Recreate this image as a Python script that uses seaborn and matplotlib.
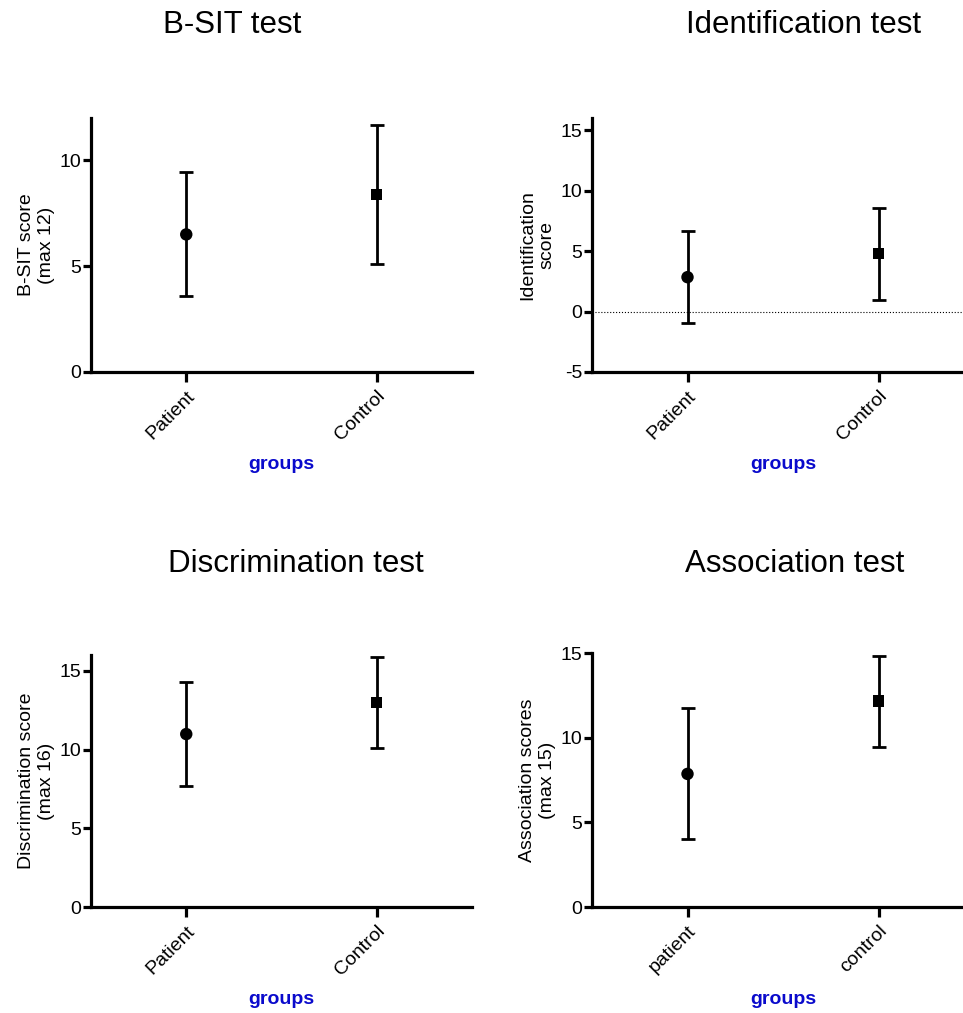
import numpy as np
import pandas as pd
import matplotlib
matplotlib.use("Agg")
import matplotlib.pyplot as plt
import seaborn as sns

# данные (среднее и ошибка)
groups_upper = ["Patient", "Control"]
groups_lower = ["patient", "control"]

bsit_mean = [6.5, 8.4]
bsit_err = [2.93, 3.28]

ident_mean = [2.84, 4.78]
ident_err = [3.78, 3.79]

discr_mean = [10.98, 12.99]
discr_err = [3.3, 2.9]

assoc_mean = [7.86, 12.16]
assoc_err = [3.87, 2.69]

titles = ["B-SIT test", "Identification test", "Discrimination test", "Association test"]
ylabels = ["B-SIT score\n(max 12)", "Identification\nscore",
           "Discrimination score\n(max 16)", "Association scores\n(max 15)"]

sns.set_style("ticks")
plt.rcParams["font.family"] = ["Liberation Sans", "DejaVu Sans"]
plt.rcParams["axes.unicode_minus"] = False
plt.rcParams["text.color"] = "black"
plt.rcParams["axes.labelcolor"] = "black"
plt.rcParams["xtick.color"] = "black"
plt.rcParams["ytick.color"] = "black"
plt.rcParams["axes.edgecolor"] = "black"

fig = plt.figure(figsize=(9.63, 10.13), dpi=100)
W, H = 963, 1013


def make_ax(left, top, right, bottom):
    return fig.add_axes([left / W, 1 - bottom / H, (right - left) / W, (bottom - top) / H])


panels = [
    dict(ax=make_ax(91, 118, 472, 372), cats=groups_upper, mean=bsit_mean, err=bsit_err,
         ylim=(0, 12), yticks=[0, 5, 10]),
    dict(ax=make_ax(592, 118, 974, 372), cats=groups_upper, mean=ident_mean, err=ident_err,
         ylim=(-5, 16), yticks=[-5, 0, 5, 10, 15]),
    dict(ax=make_ax(91, 655, 472, 907), cats=groups_upper, mean=discr_mean, err=discr_err,
         ylim=(0, 16), yticks=[0, 5, 10, 15]),
    dict(ax=make_ax(592, 653, 974, 907), cats=groups_lower, mean=assoc_mean, err=assoc_err,
         ylim=(0, 15), yticks=[0, 5, 10, 15]),
]

for i, p in enumerate(panels):
    ax = p["ax"]
    df = pd.DataFrame({"group": p["cats"], "score": p["mean"], "err": p["err"]})
    if i == 1:
        ax.axhline(0, ls=":", lw=0.8, color="k", zorder=1)
    ax.errorbar(x=df["group"], y=df["score"], yerr=df["err"], fmt="none",
                ecolor="black", elinewidth=2.0, capsize=4.7, capthick=2.0, zorder=2)
    sns.scatterplot(data=df, x="group", y="score", style="group",
                    markers=["o", "s"], s=[80, 65], color="black",
                    edgecolor="black", linewidth=0, legend=False, ax=ax, zorder=3)
    ax.set_xlim(-0.5, 1.5)
    ax.set_ylim(*p["ylim"])
    ax.set_yticks(p["yticks"])
    ax.set_xticks([0, 1])
    ax.set_xticklabels(p["cats"], rotation=45, ha="right", rotation_mode="anchor")
    sns.despine(ax=ax)
    for s in ["left", "bottom"]:
        ax.spines[s].set_linewidth(2.3)
    ax.tick_params(axis="y", length=6, width=2.3, labelsize=14, pad=1)
    ax.tick_params(axis="x", length=7, width=2.3, labelsize=14, pad=4)
    ax.set_ylabel(ylabels[i], fontsize=14, linespacing=1.2)
    ax.yaxis.set_label_coords(-0.143, 0.5)
    ax.yaxis.label.set_va("center")
    ax.set_xlabel("groups", fontsize=14, fontweight="bold", color="#0a0acc")
    ax.xaxis.set_label_coords(0.5, -0.366)
    ax.xaxis.label.set_va("center")

title_pos = [(232.5, 33), (804, 33), (296, 572), (795, 572)]
for t, (x, y) in zip(titles, title_pos):
    fig.text(x / W, 1 - y / H, t, fontsize=22.5, ha="center", va="baseline")

fig.savefig("out.png", dpi=100)
